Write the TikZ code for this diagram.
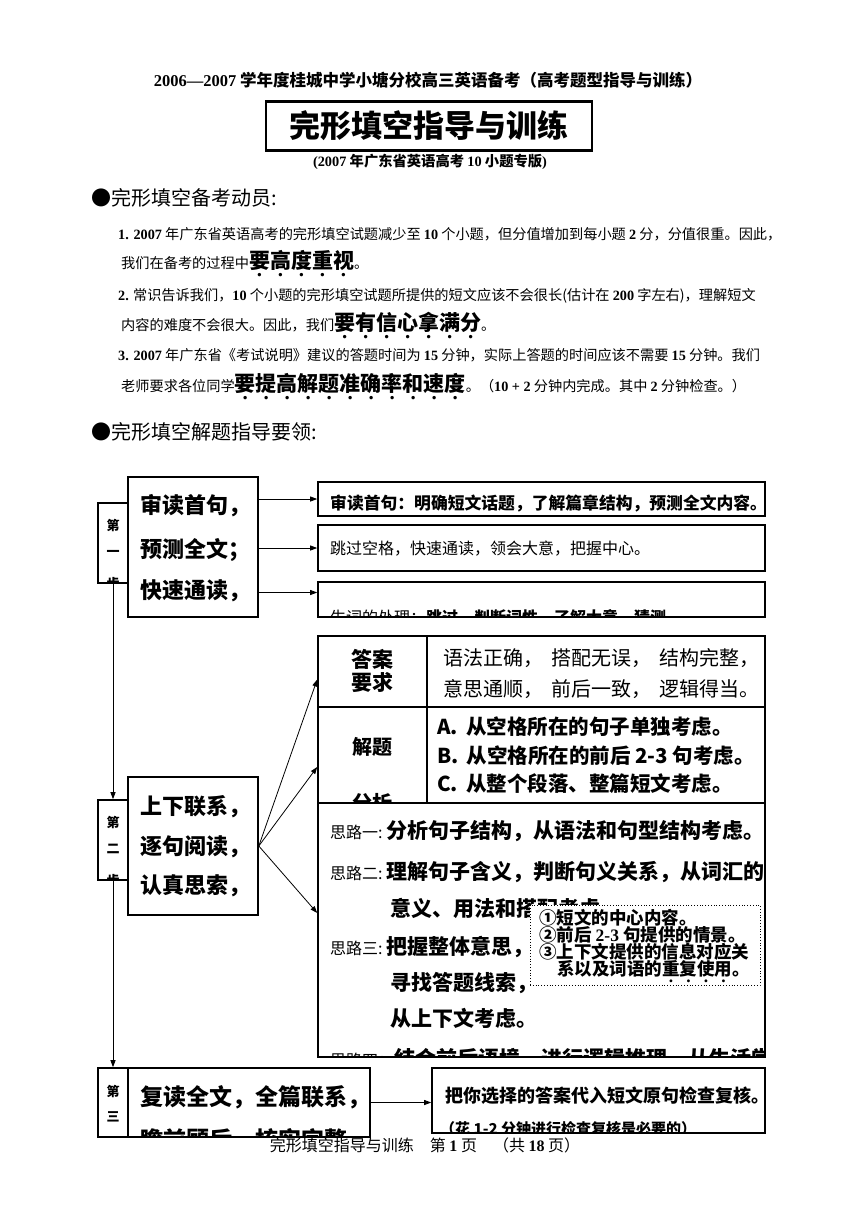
\documentclass[tikz,border=0pt]{standalone}
\usepackage{fontspec}
\setmainfont{Noto Sans CJK SC}
\newfontfamily\tnr{Liberation Serif}
\usetikzlibrary{arrows.meta}

% dots under the stressed words
\newcommand\zd[1]{\ooalign{#1\cr\hidewidth\raisebox{-.42em}{\tnr\bfseries .}\hidewidth\cr}}
\def\zdall#1{\zdgo#1\relax}
\def\zdgo#1{\ifx\relax#1\else\zd{#1}\expandafter\zdgo\fi}
\newcommand\nm[1]{{\tnr\bfseries #1}}

\begin{document}
\begin{tikzpicture}[x=1pt,y=-1pt,>={Triangle[length=7pt,width=5pt]},
  box/.style={draw,line width=1.6pt,inner sep=0pt},
  side/.style={draw,line width=1.6pt,inner sep=0pt,minimum width=30pt},
  tx/.style={inner sep=0pt,anchor=base west},
  tc/.style={inner sep=0pt,anchor=base},
  big/.style={font=\fontsize{22}{24}\selectfont\bfseries},
  ln/.style={line width=0.8pt},
]
\useasboundingbox (0,0) rectangle (860,1216);

% ---------------- header ----------------
\node[tc,font=\fontsize{16.5}{18}\selectfont\bfseries] (head) at (428,86)
  {\nm{2006—2007} 学年度桂城中学小塘分校高三英语备考（高考题型指导与训练）};
\node[draw,line width=2.6pt,minimum width=326pt,minimum height=49pt] (title) at (429,126) {};
\node[font=\fontsize{31}{33}\selectfont\bfseries] (titletxt) at (title) {完形填空指导与训练};
\node[tc,font=\fontsize{14.3}{16}\selectfont\bfseries] (sub) at (430,166)
  {\nm{(2007} 年广东省英语高考 \nm{10} 小题专版\nm{)}};

% ---------------- part one ----------------
\node[tx,font=\fontsize{20}{22}\selectfont] (sec1) at (91,205) {●完形填空备考动员:};
\begin{scope}[font=\fontsize{14.2}{16}\selectfont]
\node[tx] (i1a) at (118,239) {\nm{1. 2007} 年广东省英语高考的完形填空试题减少至 \nm{10} 个小题，但分值增加到每小题 \nm{2} 分，分值很重。因此，};
\node[tx] (i1b) at (121,268) {我们在备考的过程中{\fontsize{21}{23}\selectfont\bfseries\zdall{要高度重视}}。};
\node[tx] (i2a) at (118,300) {\nm{2.} 常识告诉我们，\nm{10} 个小题的完形填空试题所提供的短文应该不会很长(估计在 \nm{200} 字左右)，理解短文};
\node[tx] (i2b) at (121,330) {内容的难度不会很大。因此，我们{\fontsize{21}{23}\selectfont\bfseries\zdall{要有信心拿满分}}。};
\node[tx] (i3a) at (118,360) {\nm{3. 2007} 年广东省《考试说明》建议的答题时间为 \nm{15} 分钟，实际上答题的时间应该不需要 \nm{15} 分钟。我们};
\node[tx] (i3b) at (121,391) {老师要求各位同学{\fontsize{21}{23}\selectfont\bfseries\zdall{要提高解题准确率和速度}}。（\nm{10 + 2} 分钟内完成。其中 \nm{2} 分钟检查。）};
\end{scope}
\node[tx,font=\fontsize{20}{22}\selectfont] (sec2) at (91,439) {●完形填空解题指导要领:};

% ---------------- step one ----------------
\node[side,minimum height=80pt] (s1side) at (113,543) {};
\node[box,minimum width=130pt,minimum height=140pt] (s1main) at (193,547) {};
\node[box,minimum width=447pt,minimum height=34pt] (b1) at (541.5,499) {};
\node[box,minimum width=447pt,minimum height=46pt] (b2) at (541.5,548) {};
\node[box,minimum width=447pt,minimum height=35pt] (b3) at (541.5,599.5) {};
\begin{scope}
\clip (s1side.south west) rectangle (s1side.north east);
\node[tc,font=\fontsize{13}{15}\selectfont\bfseries] (s1a) at (113,530) {第};
\node[tc,font=\fontsize{13}{15}\selectfont\bfseries] (s1b) at (113,556) {一};
\node[tc,font=\fontsize{13}{15}\selectfont\bfseries] (s1c) at (113,588) {步};
\end{scope}
\node[tx,big] (s1l1) at (140,513) {审读首句，};
\node[tx,big] (s1l2) at (140,557) {预测全文；};
\node[tx,big] (s1l3) at (140,598) {快速通读，};
\begin{scope}
\clip (b1.south west) rectangle (b1.north east);
\node[tx,font=\fontsize{16.8}{18}\selectfont\bfseries] (b1t) at (330,509) {审读首句：明确短文话题，了解篇章结构，预测全文内容。};
\end{scope}
\node[tx,font=\fontsize{16}{18}\selectfont] (b2t) at (330,554) {跳过空格，快速通读，领会大意，把握中心。};
\begin{scope}
\clip (b3.south west) rectangle (b3.north east);
\node[tx,font=\fontsize{16}{18}\selectfont] (b3t) at (330,623) {生词的处理：\textbf{跳过、判断词性、了解大意、猜测}};
\end{scope}
\draw[->,ln] (s1main.east |- b1.west) -- (b1.west);
\draw[->,ln] (s1main.east |- b2.west) -- (b2.west);
\draw[->,ln] ([yshift=7pt]s1main.east |- b3.west) -- ([yshift=7pt]b3.west);

% ---------------- step two ----------------
\node[side,minimum height=80pt] (s2side) at (113,840) {};
\node[box,minimum width=130pt,minimum height=138pt] (s2main) at (193,846) {};
\draw[->,ln] (s1side.south) -- (s2side.north);
\begin{scope}
\clip (s2side.south west) rectangle (s2side.north east);
\node[tc,font=\fontsize{13}{15}\selectfont\bfseries] (s2a) at (113,827) {第};
\node[tc,font=\fontsize{13}{15}\selectfont\bfseries] (s2b) at (113,853) {二};
\node[tc,font=\fontsize{13}{15}\selectfont\bfseries] (s2c) at (113,885) {步};
\end{scope}
\node[tx,big] (s2l1) at (140,814) {上下联系，};
\node[tx,big] (s2l2) at (140,854) {逐句阅读，};
\node[tx,big] (s2l3) at (140,893) {认真思索，};

% table on the right
\node[box,minimum width=109pt,minimum height=71pt] (r1l) at (372.5,671.5) {};
\node[box,minimum width=338pt,minimum height=71pt] (r1r) at (596,671.5) {};
\node[box,minimum width=109pt,minimum height=96pt] (r2l) at (372.5,755) {};
\node[box,minimum width=338pt,minimum height=96pt] (r2r) at (596,755) {};
\node[box,minimum width=447pt,minimum height=254pt] (r3) at (541.5,930) {};
\node[tc,font=\fontsize{21}{22}\selectfont\bfseries] (r1a) at (372,667) {答案};
\node[tc,font=\fontsize{21}{22}\selectfont\bfseries] (r1b) at (372,690) {要求};
\node[tx,font=\fontsize{20}{21}\selectfont] (r1c) at (443,665) {语法正确，\hspace{8pt}搭配无误，\hspace{8pt}结构完整，};
\node[tx,font=\fontsize{20}{21}\selectfont] (r1d) at (443,696) {意思通顺，\hspace{8pt}前后一致，\hspace{8pt}逻辑得当。};
\begin{scope}
\clip (r2l.south west) rectangle (r2l.north east);
\node[tc,font=\fontsize{20}{22}\selectfont\bfseries] (r2a) at (372,754) {解题};
\node[tc,font=\fontsize{20}{22}\selectfont\bfseries] (r2b) at (372,810) {分析};
\end{scope}
\node[tx,font=\fontsize{20.5}{22}\selectfont\bfseries] (r2c) at (437,734) {A.\ \,从空格所在的句子单独考虑。};
\node[tx,font=\fontsize{20.5}{22}\selectfont\bfseries] (r2d) at (437,763) {B.\ \,从空格所在的前后 2-3 句考虑。};
\node[tx,font=\fontsize{20.5}{22}\selectfont\bfseries] (r2e) at (437,791) {C.\ \,从整个段落、整篇短文考虑。};
\begin{scope}[font=\fontsize{21}{23}\selectfont\bfseries]
\clip (r3.south west) rectangle (r3.north east);
\node[tx] (p1) at (330,838) {{\fontsize{16}{18}\mdseries 思路一:}\,分析句子结构，从语法和句型结构考虑。};
\node[tx] (p2) at (330,879) {{\fontsize{16}{18}\mdseries 思路二:}\,理解句子含义，判断句义关系，从词汇的};
\node[tx] (p2b) at (390,916) {意义、用法和搭配考虑。};
\node[tx] (p3) at (330,954) {{\fontsize{16}{18}\mdseries 思路三:}\,把握整体意思，};
\node[tx] (p3b) at (390,990) {寻找答题线索，};
\node[tx] (p3c) at (390,1026) {从上下文考虑。};
\node[tx] (p4) at (330,1066) {{\fontsize{16}{18}\mdseries 思路四：}结合前后语境，进行逻辑推理，从生活常识};
\end{scope}
\node[draw,dotted,fill=white,line width=0.8pt,minimum width=230pt,minimum height=80pt] (hint) at (645,945) {};
\begin{scope}[font=\fontsize{17.5}{18}\selectfont\bfseries]
\node[tx] (h1) at (539,924) {①短文的中心内容。};
\node[tx] (h2) at (539,941) {②前后 \nm{2-3} 句提供的情景。};
\node[tx] (h3) at (539,958) {③上下文提供的信息对应关};
\node[tx] (h4) at (557,975) {系以及词语的\zdall{重复使用}。};
\end{scope}
\coordinate (fan) at (s2main.east);
\draw[->,ln] (fan) -- ([yshift=-8pt]r1l.west);
\draw[->,ln] (fan) -- ([yshift=-12pt]r2l.west);
\draw[->,ln] (fan) -- ([yshift=17pt]r3.west);

% ---------------- step three ----------------
\node[side,minimum height=69pt] (s3side) at (113,1102.5) {};
\node[box,minimum width=242pt,minimum height=69pt] (s3main) at (249,1102.5) {};
\node[box,minimum width=333pt,minimum height=65pt] (b4) at (598.5,1100.5) {};
\draw[->,ln] (s2side.south) -- (s3side.north);
\node[tc,font=\fontsize{13}{15}\selectfont\bfseries] (s3a) at (113,1096) {第};
\node[tc,font=\fontsize{13}{15}\selectfont\bfseries] (s3b) at (113,1121) {三};
\begin{scope}
\clip (s3main.south west) rectangle (s3main.north east);
\node[tx,font=\fontsize{23}{25}\selectfont\bfseries] (s3l1) at (140,1105) {复读全文，全篇联系，};
\node[tx,font=\fontsize{23}{25}\selectfont\bfseries] (s3l2) at (140,1148) {瞻前顾后，核实完整。};
\end{scope}
\begin{scope}
\clip (b4.south west) rectangle (b4.north east);
\node[tx,font=\fontsize{18}{20}\selectfont\bfseries] (b4a) at (445,1102) {把你选择的答案代入短文原句检查复核。};
\node[tx,font=\fontsize{15}{17}\selectfont\bfseries] (b4b) at (440,1134) {（花 1-2 分钟进行检查复核是必要的）};
\end{scope}
\draw[->,ln] (s3main.east) -- (s3main.east -| b4.west);

% ---------------- footer ----------------
\node[tc,font=\fontsize{16}{18}\selectfont] (foot) at (425,1151) {完形填空指导与训练　第 \nm{1} 页　（共 \nm{18} 页）};
\end{tikzpicture}
\end{document}
